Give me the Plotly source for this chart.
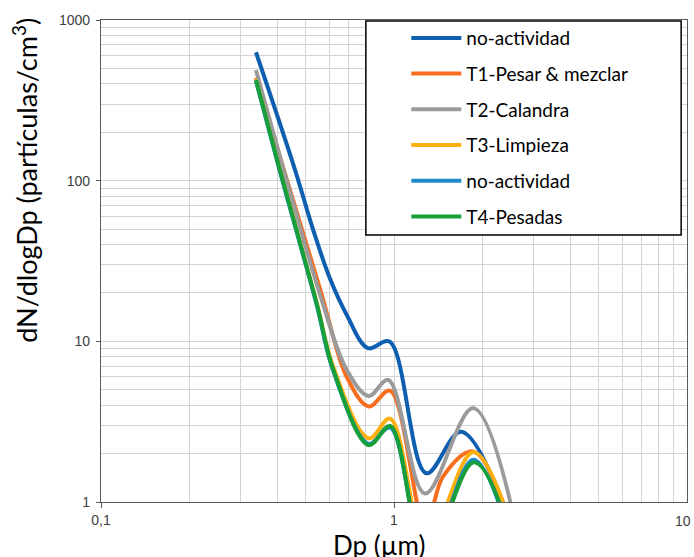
import plotly.graph_objects as go

# ---------------- data ----------------
series_names = ["no-actividad", "T1-Pesar & mezclar", "T2-Calandra",
                "T3-Limpieza", "no-actividad", "T4-Pesadas"]
series_colors = ["#0F5FB0", "#F96E1E", "#9B9B9B", "#FDB00F", "#1C8ACB", "#17A03A"]

x_noact1 = [0.338, 0.46, 0.53, 0.605, 0.69, 0.815, 0.965, 1.29, 1.70, 2.75]
y_noact1 = [630, 116, 49.3, 24.5, 14.6, 9.07, 9.96, 1.51, 2.74, 0.45]

x_t1 = [0.338, 0.56, 0.69, 0.82, 0.969, 1.28, 1.47, 1.87, 2.75]
y_t1 = [437, 21.0, 6.0, 3.93, 4.93, 0.7, 1.44, 2.06, 0.42]

x_t2 = [0.338, 0.571, 0.69, 0.82, 0.956, 1.277, 1.866, 2.75]
y_t2 = [489, 17.3, 6.63, 4.57, 5.75, 1.13, 3.84, 0.45]

x_t3 = [0.338, 0.408, 0.544, 0.621, 0.82, 0.97, 1.29, 1.87, 2.75]
y_t3 = [428, 117, 17.6, 6.9, 2.49, 3.30, 0.55, 2.05, 0.42]

x_noact2 = [0.338, 0.408, 0.544, 0.621, 0.82, 0.97, 1.29, 1.87, 2.75]
y_noact2 = [418, 114, 17.0, 6.5, 2.30, 2.90, 0.45, 1.83, 0.3]

x_t4 = [0.338, 0.408, 0.544, 0.621, 0.82, 0.97, 1.29, 1.88, 2.75]
y_t4 = [423, 116, 17.3, 6.63, 2.26, 2.97, 0.45, 1.77, 0.35]

x_tick_vals = [0.1, 1]
x_tick_text = ["0,1", "1"]
x_last_tick_text = "10"
y_tick_vals = [1, 10, 100, 1000]
y_tick_text = ["1", "10", "100", "1000"]

xs = [x_noact1, x_t1, x_t2, x_t3, x_noact2, x_t4]
ys = [y_noact1, y_t1, y_t2, y_t3, y_noact2, y_t4]

# ---------------- figure ----------------
fig = go.Figure()
for i, (name, col, xv, yv) in enumerate(zip(series_names, series_colors, xs, ys)):
    fig.add_trace(go.Scatter(
        x=xv, y=yv, name=name, mode="lines",
        line=dict(color=col, width=4, shape="spline", smoothing=1),
        legendgroup=f"g{i}",
    ))

minor_x = [m * 10 ** e for e in (-1, 0) for m in range(2, 10)]
minor_y = [m * 10 ** e for e in (0, 1, 2) for m in range(2, 10)]
grid_col = "#D4D4D4"
tick_font = dict(family="Liberation Sans, Arial, sans-serif", size=14, color="#404040")

fig.update_xaxes(
    type="log", range=[-1, 1],
    tickmode="array", tickvals=x_tick_vals, ticktext=x_tick_text,
    showgrid=True, gridcolor=grid_col, gridwidth=1,
    minor=dict(tickmode="array", tickvals=minor_x, showgrid=True,
               gridcolor=grid_col, gridwidth=1, ticks=""),
    showline=True, linecolor="#595959", linewidth=1.3, mirror=True,
    ticks="outside", ticklen=5, tickcolor="#595959",
    tickfont=tick_font, zeroline=False,
)
fig.update_yaxes(
    type="log", range=[0, 3],
    tickmode="array", tickvals=y_tick_vals, ticktext=y_tick_text,
    showgrid=True, gridcolor=grid_col, gridwidth=1,
    minor=dict(tickmode="array", tickvals=minor_y, showgrid=True,
               gridcolor=grid_col, gridwidth=1, ticks=""),
    showline=True, linecolor="#595959", linewidth=1.3, mirror=True,
    ticks="outside", ticklen=4, tickcolor="#595959",
    tickfont=tick_font, zeroline=False, ticklabelstandoff=3,
)

# last x tick label, kept inside the page (it sits at the right edge)
fig.add_annotation(text=x_last_tick_text, xref="paper", yref="paper",
                   x=1.0102, y=-0.0394, xanchor="right", yanchor="middle",
                   showarrow=False, font=tick_font)

fig.add_annotation(text="Dp (µm)", xref="paper", yref="paper",
                   x=0.475, y=-0.089, xanchor="center", yanchor="middle",
                   showarrow=False, font=dict(family="Lato, sans-serif", size=26, color="#000000"))
fig.add_annotation(text="dN/dlogDp (partículas/cm<sup>3</sup>)", xref="paper", yref="paper",
                   x=-0.13, y=0.668, xanchor="center", yanchor="middle",
                   textangle=-90, showarrow=False,
                   font=dict(family="Lato, sans-serif", size=27, color="#000000"))

# legend frame
fig.add_shape(type="rect", xref="paper", yref="paper",
              x0=0.452, x1=0.990, y0=0.554, y1=0.998,
              line=dict(color="#000000", width=1.5), fillcolor="#FFFFFF", layer="above")

fig.update_layout(
    width=694, height=557,
    margin=dict(l=101, r=7, t=20, b=55),
    paper_bgcolor="#FFFFFF", plot_bgcolor="#FFFFFF",
    showlegend=True,
    legend=dict(x=0.521, y=1.002, xanchor="left", yanchor="top",
                bgcolor="rgba(0,0,0,0)", borderwidth=0,
                font=dict(family="Lato, sans-serif", size=19, color="#000000"),
                itemwidth=50, tracegroupgap=8, traceorder="grouped"),
)

# remove the default 8 px page margin so the figure fills the window exactly
fig.write_html("out.html", config={"displayModeBar": False},
               post_script="document.body.style.margin='0';")
